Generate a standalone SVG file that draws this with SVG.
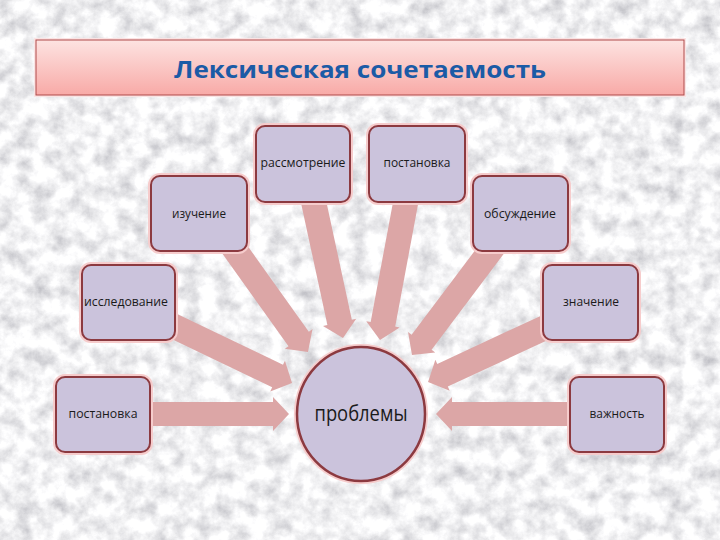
<svg xmlns="http://www.w3.org/2000/svg" width="720" height="540" viewBox="0 0 720 540">
<defs>
<filter id="marble" x="0" y="0" width="720" height="540" filterUnits="userSpaceOnUse">
<feTurbulence type="fractalNoise" baseFrequency="0.06" numOctaves="5" seed="11" result="t"/>
<feColorMatrix in="t" type="matrix" values="-0.8 0 0 0 1.28  -0.8 0 0 0 1.28  -0.75 0 0 0 1.27  0 0 0 0 1"/>
</filter>
<linearGradient id="titleGrad" x1="0" y1="0" x2="0" y2="1">
<stop offset="0" stop-color="#fde3e1"/>
<stop offset="1" stop-color="#f8aaa7"/>
</linearGradient>
<style>
.arrow{fill:#dca6a6}
.glow{fill:none;stroke:#f6cccc;stroke-width:6}
.box{fill:#cbc3dc;stroke:#8c3a40;stroke-width:2}
.lbl{font-family:"Open Sans","Liberation Sans",sans-serif;font-size:12px;fill:#1a1a1a;text-anchor:middle}
.big{font-family:"Open Sans","Liberation Sans",sans-serif;font-size:21px;fill:#1a1a1a;text-anchor:middle}
.title{font-family:"Open Sans","Liberation Sans",sans-serif;font-size:24px;font-weight:bold;fill:#1b5ba6;text-anchor:middle}
</style>
</defs>
<rect x="0" y="0" width="720" height="540" filter="url(#marble)"/>

<g id="title">
<rect x="36" y="40" width="648" height="55" fill="none" stroke="#fbe3e3" stroke-width="4"/>
<rect x="36" y="40" width="648" height="55" fill="url(#titleGrad)" stroke="#b04a4a" stroke-width="1"/>
<text class="title" x="360" y="78" textLength="372" lengthAdjust="spacingAndGlyphs">Лексическая сочетаемость</text>
</g>

<g id="connectors">
<polygon class="arrow" points="0,-12.5 121.6,-12.5 121.6,-17 137.6,0 121.6,17 121.6,12.5 0,12.5" transform="translate(228 240) rotate(54.46)"/>
<polygon class="arrow" points="0,-12.5 135.4,-12.5 135.4,-17 151.4,0 135.4,17 135.4,12.5 0,12.5" transform="translate(311 190) rotate(77.8)"/>
<polygon class="arrow" points="0,-12.5 136.6,-12.5 136.6,-17 152.6,0 136.6,17 136.6,12.5 0,12.5" transform="translate(408 190) rotate(100.57)"/>
<polygon class="arrow" points="0,-12.5 130.4,-12.5 130.4,-17 146.4,0 130.4,17 130.4,12.5 0,12.5" transform="translate(500 238) rotate(126.95)"/>
<polygon class="arrow" points="0,-12.5 124,-12.5 124,-17 140,0 124,17 124,12.5 0,12.5" transform="translate(555 323) rotate(155.08)"/>
<polygon class="arrow" points="0,-12.5 124.9,-12.5 124.9,-17 140.9,0 124.9,17 124.9,12.5 0,12.5" transform="translate(165 322) rotate(25.65)"/>
<polygon class="arrow" points="0,-12 123,-12 123,-17 139,0 123,17 123,12 0,12" transform="translate(150 414)"/>
<polygon class="arrow" points="0,-12 118,-12 118,-17 134,0 118,17 118,12 0,12" transform="translate(570 414) rotate(180)"/>
</g>

<g id="node-rassmotrenie">
<rect class="glow" x="256" y="126" width="94" height="76" rx="9"/>
<rect class="box" x="256" y="126" width="94" height="76" rx="9"/>
<text class="lbl" x="303" y="167" textLength="85" lengthAdjust="spacingAndGlyphs">рассмотрение</text>
</g>
<g id="node-postanovka-top">
<rect class="glow" x="369" y="126" width="96" height="76" rx="9"/>
<rect class="box" x="369" y="126" width="96" height="76" rx="9"/>
<text class="lbl" x="417" y="167" textLength="67" lengthAdjust="spacingAndGlyphs">постановка</text>
</g>
<g id="node-izuchenie">
<rect class="glow" x="151" y="176" width="96" height="75" rx="9"/>
<rect class="box" x="151" y="176" width="96" height="75" rx="9"/>
<text class="lbl" x="199" y="218" textLength="54" lengthAdjust="spacingAndGlyphs">изучение</text>
</g>
<g id="node-obsuzhdenie">
<rect class="glow" x="473" y="176" width="95" height="75" rx="9"/>
<rect class="box" x="473" y="176" width="95" height="75" rx="9"/>
<text class="lbl" x="520" y="218" textLength="72" lengthAdjust="spacingAndGlyphs">обсуждение</text>
</g>
<g id="node-issledovanie">
<rect class="glow" x="82" y="265" width="93" height="75" rx="9"/>
<rect class="box" x="82" y="265" width="93" height="75" rx="9"/>
<text class="lbl" x="126" y="306" textLength="84" lengthAdjust="spacingAndGlyphs">исследование</text>
</g>
<g id="node-znachenie">
<rect class="glow" x="543" y="265" width="95" height="75" rx="9"/>
<rect class="box" x="543" y="265" width="95" height="75" rx="9"/>
<text class="lbl" x="591" y="306" textLength="56" lengthAdjust="spacingAndGlyphs">значение</text>
</g>
<g id="node-postanovka-left">
<rect class="glow" x="56" y="377" width="94" height="75" rx="9"/>
<rect class="box" x="56" y="377" width="94" height="75" rx="9"/>
<text class="lbl" x="103" y="418" textLength="69" lengthAdjust="spacingAndGlyphs">постановка</text>
</g>
<g id="node-vazhnost">
<rect class="glow" x="570" y="377" width="94" height="75" rx="9"/>
<rect class="box" x="570" y="377" width="94" height="75" rx="9"/>
<text class="lbl" x="617" y="418" textLength="55" lengthAdjust="spacingAndGlyphs">важность</text>
</g>
<g id="node-problemy">
<ellipse class="glow" cx="361" cy="414" rx="64" ry="67"/>
<ellipse class="box" cx="361" cy="414" rx="64" ry="67" style="stroke-width:2.5"/>
<text class="big" x="361" y="421" textLength="93" lengthAdjust="spacingAndGlyphs">проблемы</text>
</g>
</svg>
